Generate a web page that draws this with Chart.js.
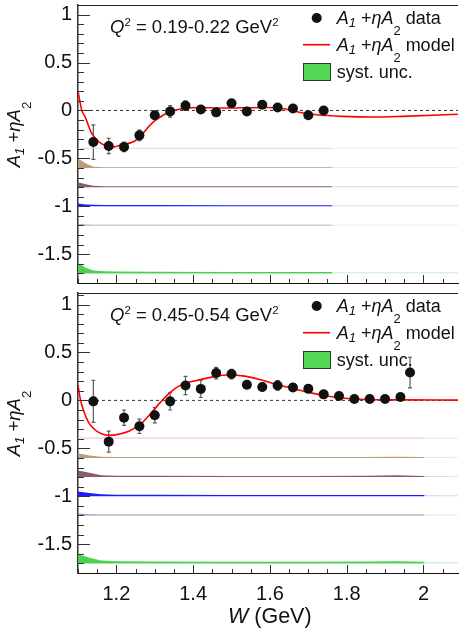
<!DOCTYPE html>
<html>
<head>
<meta charset="utf-8">
<script src="https://cdn.jsdelivr.net/npm/chart.js@4.4.1/dist/chart.umd.min.js"></script>
<style>
  html, body { margin: 0; padding: 0; background: #fff; overflow: hidden; }
  #wrap { position: relative; width: 463px; height: 632px; }
  canvas { position: absolute; left: 0; }
  #chart-low { top: 0; }
  #chart-high { top: 288px; }
</style>
</head>
<body>
<div id="wrap">
  <canvas id="chart-low" width="463" height="288"></canvas>
  <canvas id="chart-high" width="463" height="344"></canvas>
</div>
<script>
var FONT = '"Liberation Sans", Arial, Helvetica, sans-serif';

// axes
var X_MIN = 1.1, X_MAX = 2.09;
var Y_MIN = -1.8;
var X_TICKS = [1.2, 1.4, 1.6, 1.8, 2];
var Y_TICKS = [-1.5, -1, -0.5, 0, 0.5, 1];

// Q2 = 0.19-0.22 GeV2 : measured points
var W_LOW = [1.14, 1.18, 1.22, 1.26, 1.30, 1.34, 1.38, 1.42, 1.46, 1.50, 1.54, 1.58, 1.62, 1.66, 1.70, 1.74];
var A_LOW = [-0.33, -0.37, -0.38, -0.26, -0.05, -0.01, 0.05, 0.01, -0.02, 0.076, -0.01, 0.06, 0.03, 0.02, -0.05, 0.0];
var E_LOW = [0.18, 0.08, 0.05, 0.055, 0.04, 0.06, 0.05, 0.04, 0.03, 0.03, 0.03, 0.03, 0.03, 0.03, 0.03, 0.03];

// Q2 = 0.19-0.22 GeV2 : model curve
var WM_LOW = [1.10, 1.11, 1.118, 1.135, 1.155, 1.178, 1.19, 1.212, 1.247, 1.264, 1.281, 1.298, 1.324, 1.349, 1.375, 1.418, 1.465, 1.594, 1.636, 1.679, 1.722, 1.79, 1.868, 1.945, 2.09];
var M_LOW = [0.20, 0.0, -0.062, -0.235, -0.33, -0.373, -0.38, -0.36, -0.321, -0.263, -0.183, -0.114, -0.045, 0.0, 0.02, 0.031, 0.025, 0.031, 0.018, -0.021, -0.045, -0.062, -0.069, -0.062, -0.04];

// Q2 = 0.45-0.54 GeV2 : measured points
var W_HIGH = [1.14, 1.18, 1.22, 1.26, 1.30, 1.34, 1.38, 1.42, 1.46, 1.50, 1.54, 1.58, 1.62, 1.66, 1.70, 1.74, 1.78, 1.82, 1.86, 1.90, 1.94, 1.965];
var A_HIGH = [-0.01, -0.43, -0.18, -0.27, -0.155, -0.01, 0.155, 0.12, 0.285, 0.275, 0.163, 0.139, 0.156, 0.135, 0.122, 0.063, 0.045, 0.014, 0.014, 0.014, 0.035, 0.29];
var E_HIGH = [0.22, 0.11, 0.08, 0.075, 0.08, 0.09, 0.095, 0.09, 0.06, 0.05, 0.04, 0.04, 0.05, 0.04, 0.04, 0.04, 0.035, 0.03, 0.03, 0.03, 0.03, 0.16];

// Q2 = 0.45-0.54 GeV2 : model curve
var WM_HIGH = [1.10, 1.105, 1.114, 1.127, 1.144, 1.161, 1.182, 1.204, 1.234, 1.264, 1.289, 1.315, 1.341, 1.371, 1.409, 1.452, 1.49, 1.534, 1.576, 1.619, 1.662, 1.705, 1.748, 1.808, 1.868, 1.945, 2.09];
var M_HIGH = [0.16, 0.035, -0.10, -0.226, -0.306, -0.347, -0.365, -0.354, -0.32, -0.243, -0.139, -0.018, 0.087, 0.167, 0.208, 0.245, 0.265, 0.253, 0.215, 0.163, 0.122, 0.08, 0.045, 0.017, 0.007, 0.005, 0.003];

// systematic components, each drawn on its own baseline
var SYS_BASE = [-0.4, -0.6, -0.8, -1.0, -1.2, -1.7];
var SYS_COLORS = ['#f2c6ee', '#bb9c7c', '#8a5c68', '#1c1cff', '#9896b2', '#4fcf4f'];
var SYS_FADED = ['#f9e2f7', '#ece3d9', '#e3d5d9', '#d5dbfa', '#e6e6ec', '#d7f3d7'];

var WS_LOW = [1.10, 1.12, 1.14, 1.17, 1.20, 1.30, 1.50, 1.74, 1.90, 2.09];
var SYS_LOW_1 = [0.012, 0.012, 0.012, 0.012, 0.012, 0.012, 0.012, 0.012, 0.012, 0.012];
var SYS_LOW_2 = [0.10, 0.05, 0.012, 0.008, 0.008, 0.007, 0.007, 0.007, 0.007, 0.007];
var SYS_LOW_3 = [0.05, 0.03, 0.015, 0.01, 0.009, 0.008, 0.008, 0.008, 0.008, 0.008];
var SYS_LOW_4 = [0.03, 0.02, 0.016, 0.014, 0.014, 0.013, 0.012, 0.01, 0.012, 0.012];
var SYS_LOW_5 = [0.015, 0.01, 0.008, 0.008, 0.008, 0.008, 0.008, 0.008, 0.008, 0.008];
var SYS_LOW_6 = [0.11, 0.06, 0.03, 0.022, 0.02, 0.018, 0.016, 0.014, 0.015, 0.015];

var WS_HIGH = [1.10, 1.13, 1.16, 1.20, 1.30, 1.50, 1.70, 1.85, 1.93, 2.00, 2.09];
var SYS_HIGH_1 = [0.012, 0.012, 0.012, 0.012, 0.012, 0.012, 0.012, 0.012, 0.012, 0.012, 0.012];
var SYS_HIGH_2 = [0.05, 0.025, 0.012, 0.01, 0.01, 0.01, 0.01, 0.01, 0.012, 0.01, 0.008];
var SYS_HIGH_3 = [0.07, 0.045, 0.02, 0.014, 0.013, 0.012, 0.012, 0.013, 0.02, 0.012, 0.01];
var SYS_HIGH_4 = [0.05, 0.035, 0.02, 0.016, 0.015, 0.014, 0.013, 0.013, 0.013, 0.013, 0.012];
var SYS_HIGH_5 = [0.02, 0.012, 0.01, 0.009, 0.009, 0.009, 0.009, 0.009, 0.009, 0.009, 0.009];
var SYS_HIGH_6 = [0.095, 0.06, 0.03, 0.022, 0.02, 0.018, 0.018, 0.02, 0.022, 0.018, 0.015];

var A_LABEL = [
    {t: 'A', it: true}, {t: '1', it: true, sub: 0.2}, {t: ' +'},
    {t: '\u03b7', it: true}, {t: 'A', it: true}, {t: '2', sub: 0.62}
];

function points(xs, ys) {
    return xs.map(function (x, i) { return {x: x, y: ys[i]}; });
}

function bandFill(chart, solid, faded, cut) {
    var a = chart.chartArea;
    if (!a) return solid;
    var f = (chart.scales.x.getPixelForValue(cut) - a.left) / (a.right - a.left);
    f = Math.max(0, Math.min(0.995, f));
    var g = chart.ctx.createLinearGradient(a.left, 0, a.right, 0);
    g.addColorStop(0, solid);
    g.addColorStop(f, solid);
    g.addColorStop(f + 0.004, faded);
    g.addColorStop(1, faded);
    return g;
}

function sysDatasets(wGrid, comps, cut) {
    return comps.map(function (h, i) {
        var base = SYS_BASE[i];
        return {
            data: wGrid.map(function (w, j) { return {x: w, y: base + h[j]}; }),
            fill: {value: base},
            borderWidth: 0,
            pointRadius: 0,
            tension: 0,
            order: 3,
            backgroundColor: function (c) {
                return bandFill(c.chart, SYS_COLORS[i], SYS_FADED[i], cut);
            }
        };
    });
}

// text with italic pieces, sub- and superscripts
function rich(ctx, parts, x, y, size) {
    parts.forEach(function (p) {
        var s = size, dy = 0;
        if (p.sub) { s = size * 0.72; dy = size * p.sub; }
        if (p.sup) { s = size * 0.62; dy = -size * 0.36; }
        ctx.font = (p.it ? 'italic ' : '') + s + 'px ' + FONT;
        ctx.fillText(p.t, x, y + dy);
        x += ctx.measureText(p.t).width;
    });
    return x;
}

function richWidth(ctx, parts, size) {
    var w = 0;
    parts.forEach(function (p) {
        var s = p.sub ? size * 0.72 : p.sup ? size * 0.62 : size;
        ctx.font = (p.it ? 'italic ' : '') + s + 'px ' + FONT;
        w += ctx.measureText(p.t).width;
    });
    return w;
}

function plainNumber(v) {
    return String(Math.round(v * 10) / 10);
}

function makeOverlay(panel) {
    return {
        id: 'overlay',
        beforeDatasetsDraw: function (chart) {
            // error bars
            var ctx = chart.ctx, xs = chart.scales.x, ys = chart.scales.y;
            ctx.save();
            ctx.strokeStyle = '#5a5a5a';
            ctx.lineWidth = 1.2;
            ctx.beginPath();
            panel.w.forEach(function (w, i) {
                var px = xs.getPixelForValue(w);
                var lo = ys.getPixelForValue(panel.a[i] - panel.e[i]);
                var hi = ys.getPixelForValue(panel.a[i] + panel.e[i]);
                ctx.moveTo(px, lo); ctx.lineTo(px, hi);
                ctx.moveTo(px - 2, lo); ctx.lineTo(px + 2, lo);
                ctx.moveTo(px - 2, hi); ctx.lineTo(px + 2, hi);
            });
            ctx.stroke();
            ctx.restore();
        },
        afterDraw: function (chart) {
            var ctx = chart.ctx, a = chart.chartArea;
            var xs = chart.scales.x, ys = chart.scales.y;
            var i, v, p;
            ctx.save();

            // tick marks pointing into the frame
            ctx.strokeStyle = '#333';
            ctx.lineWidth = 1;
            ctx.beginPath();
            for (i = -18; i <= 11; i++) {
                p = Math.round(ys.getPixelForValue(i / 10)) + 0.5;
                if (p < a.top || p > a.bottom) continue;
                ctx.moveTo(a.left, p);
                ctx.lineTo(a.left + (i % 5 === 0 ? 12 : 6), p);
            }
            for (i = 22; i <= 41; i++) {
                v = i * 0.05;
                p = Math.round(xs.getPixelForValue(v)) + 0.5;
                if (p <= a.left || p > a.right) continue;
                ctx.moveTo(p, a.bottom);
                ctx.lineTo(p, a.bottom - (i % 4 === 0 ? 8 : 4));
            }
            ctx.stroke();

            // upper frame edge
            ctx.strokeStyle = '#222';
            ctx.beginPath();
            ctx.moveTo(a.left, a.top + 0.5);
            ctx.lineTo(a.right, a.top + 0.5);
            ctx.stroke();

            ctx.fillStyle = '#111';
            ctx.textBaseline = 'alphabetic';

            // Q2 bin
            rich(ctx, [
                {t: 'Q', it: true}, {t: '2', sup: true},
                {t: ' = ' + panel.q2 + ' GeV'}, {t: '2', sup: true}
            ], 110, a.top + 27.5, 18.5);

            // legend
            var t = a.top;
            ctx.beginPath();
            ctx.arc(316.7, t + 13, 5, 0, Math.PI * 2);
            ctx.fill();
            rich(ctx, A_LABEL.concat([{t: ' data'}]), 336.7, t + 18.7, 18);

            ctx.strokeStyle = '#ff0000';
            ctx.lineWidth = 1.6;
            ctx.beginPath();
            ctx.moveTo(303, t + 39.7);
            ctx.lineTo(330, t + 39.7);
            ctx.stroke();
            ctx.fillStyle = '#111';
            rich(ctx, A_LABEL.concat([{t: ' model'}]), 336.7, t + 45.5, 18);

            ctx.fillStyle = '#55d655';
            ctx.fillRect(303, t + 58, 28, 18);
            ctx.strokeStyle = '#333';
            ctx.lineWidth = 1;
            ctx.strokeRect(303.5, t + 58.5, 27, 17);
            ctx.fillStyle = '#111';
            rich(ctx, [{t: 'syst. unc.'}], 336.7, t + 72.5, 18);

            // y title
            var size = 18.5;
            var tw = richWidth(ctx, A_LABEL, size);
            ctx.translate(20, (a.top + a.bottom) / 2 - 9.5);
            ctx.rotate(-Math.PI / 2);
            rich(ctx, A_LABEL, -tw / 2, 0, size);
            ctx.setTransform(1, 0, 0, 1, 0, 0);

            // x title
            if (panel.xTitle) {
                rich(ctx, [{t: 'W', it: true}, {t: ' (GeV)'}], 228, a.bottom + 49.5, 21.5);
            }
            ctx.restore();
        }
    };
}

function renderPanel(canvasId, panel) {
    var datasets = [
        {
            label: 'data',
            data: points(panel.w, panel.a),
            showLine: false,
            pointRadius: 5,
            pointHoverRadius: 5,
            pointBackgroundColor: '#111',
            pointBorderWidth: 0,
            order: 0
        },
        {
            label: 'model',
            data: points(panel.wm, panel.m),
            borderColor: '#ff0000',
            borderWidth: 1.6,
            pointRadius: 0,
            cubicInterpolationMode: 'monotone',
            fill: false,
            order: 1
        },
        {
            label: 'zero',
            data: [{x: X_MIN, y: 0}, {x: X_MAX, y: 0}],
            borderColor: '#333',
            borderWidth: 1,
            borderDash: [3, 3],
            pointRadius: 0,
            fill: false,
            order: 2
        }
    ].concat(sysDatasets(panel.ws, panel.sys, panel.cut));

    return new Chart(document.getElementById(canvasId), {
        type: 'line',
        data: {datasets: datasets},
        options: {
            responsive: false,
            animation: false,
            events: [],
            layout: {padding: {top: panel.padTop, left: 0, right: 0, bottom: 0}},
            plugins: {
                legend: {display: false},
                tooltip: {enabled: false}
            },
            scales: {
                x: {
                    type: 'linear',
                    min: X_MIN,
                    max: X_MAX,
                    afterBuildTicks: function (s) {
                        s.ticks = X_TICKS.map(function (v) { return {value: v}; });
                    },
                    afterFit: function (s) {
                        s.height = panel.xHeight;
                        s.paddingLeft = 0;
                        s.paddingRight = 0;
                    },
                    grid: {display: false, drawTicks: false},
                    border: {display: true, color: '#111', width: 1},
                    ticks: {
                        display: panel.xTitle,
                        padding: 9,
                        maxRotation: 0,
                        color: '#111',
                        font: {family: FONT, size: 20},
                        callback: plainNumber
                    }
                },
                y: {
                    min: Y_MIN,
                    max: panel.yMax,
                    afterBuildTicks: function (s) {
                        s.ticks = Y_TICKS.map(function (v) { return {value: v}; });
                    },
                    afterFit: function (s) {
                        s.width = 78;
                        s.paddingTop = 0;
                        s.paddingBottom = 0;
                    },
                    grid: {display: false, drawTicks: false},
                    border: {display: true, color: '#333', width: 1.5},
                    ticks: {
                        padding: 6,
                        color: '#111',
                        font: {family: FONT, size: 20},
                        callback: plainNumber
                    }
                }
            }
        },
        plugins: [makeOverlay(panel)]
    });
}

renderPanel('chart-low', {
    q2: '0.19-0.22',
    w: W_LOW, a: A_LOW, e: E_LOW,
    wm: WM_LOW, m: M_LOW,
    ws: WS_LOW,
    sys: [SYS_LOW_1, SYS_LOW_2, SYS_LOW_3, SYS_LOW_4, SYS_LOW_5, SYS_LOW_6],
    cut: 1.76,
    yMax: 1.1,
    padTop: 3,
    xHeight: 5,
    xTitle: false
});

renderPanel('chart-high', {
    q2: '0.45-0.54',
    w: W_HIGH, a: A_HIGH, e: E_HIGH,
    wm: WM_HIGH, m: M_HIGH,
    ws: WS_HIGH,
    sys: [SYS_HIGH_1, SYS_HIGH_2, SYS_HIGH_3, SYS_HIGH_4, SYS_HIGH_5, SYS_HIGH_6],
    cut: 2.0,
    yMax: 1.12,
    padTop: 4,
    xHeight: 59,
    xTitle: true
});
</script>
</body>
</html>
